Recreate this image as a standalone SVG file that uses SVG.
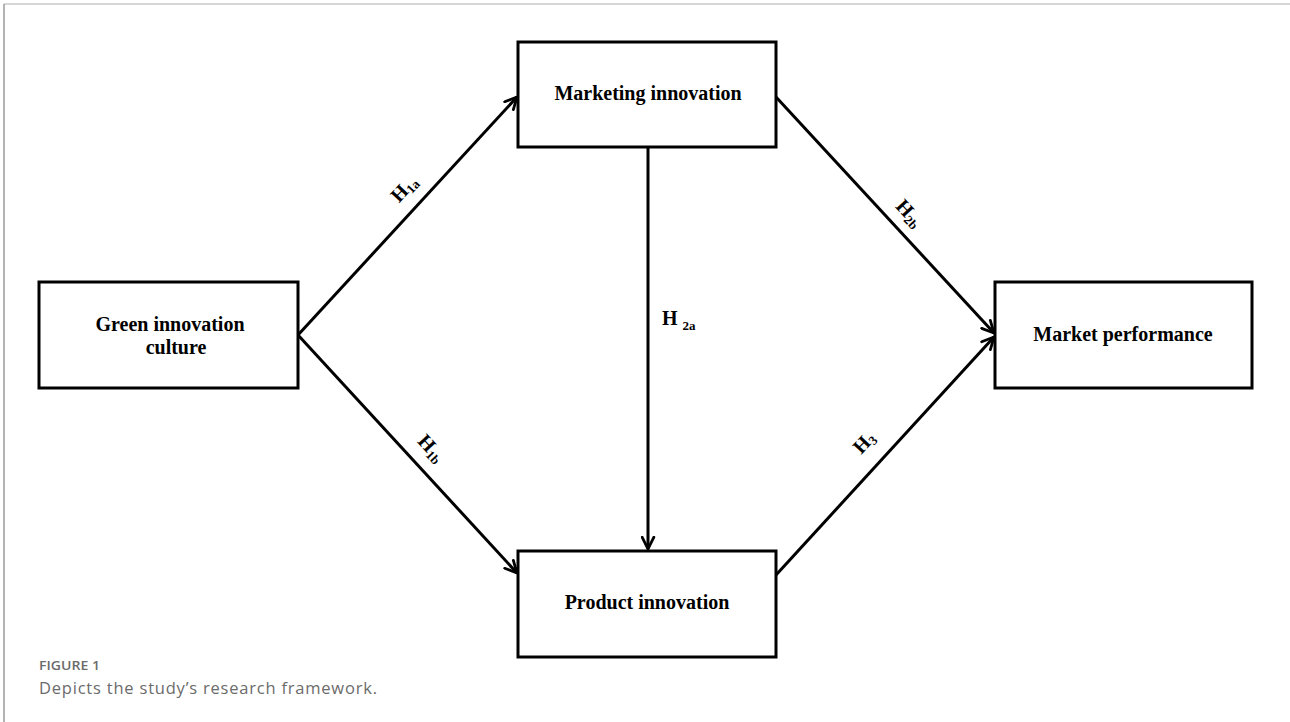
<svg xmlns="http://www.w3.org/2000/svg" width="1290" height="722" viewBox="0 0 1290 722">
<style>
.box{fill:#fff;stroke:#000;stroke-width:3}
.t{font-family:"Liberation Serif","Times New Roman",serif;font-weight:bold;font-size:20px;fill:#000;text-anchor:middle}
.lab{font-family:"Liberation Serif","Times New Roman",serif;font-weight:bold;font-size:20px;fill:#000}
.sub{font-size:13px}
.edge{stroke:#000;stroke-width:3;fill:none;marker-end:url(#ah)}
.cap1{font-family:"Open Sans","Noto Sans",sans-serif;font-weight:600;font-size:13px;fill:#6b6b6b}
.cap2{font-family:"Open Sans","Noto Sans",sans-serif;font-size:16.5px;fill:#6b6b6b}
</style>
<defs>
<marker id="ah" viewBox="0 0 14 14" refX="12.5" refY="7" markerWidth="15" markerHeight="15" markerUnits="userSpaceOnUse" orient="auto">
<path d="M1.5,1.5 L12.5,7 L1.5,12.5" fill="none" stroke="#000" stroke-width="2.6" stroke-linecap="round" stroke-linejoin="miter"/>
</marker>
</defs>
<rect width="1290" height="722" fill="#fff"/>
<g id="frame">
<line x1="4" y1="4" x2="1290" y2="4" stroke="#c8c8c8" stroke-width="1.5"/>
<line x1="4" y1="4" x2="4" y2="722" stroke="#9a9a9a" stroke-width="1.5"/>
</g>
<g id="connectors">
<line class="edge" x1="298" y1="335" x2="517" y2="97"/>
<line class="edge" x1="298" y1="335" x2="517" y2="573"/>
<line class="edge" x1="648" y1="147" x2="648" y2="549"/>
<line class="edge" x1="776" y1="97" x2="994" y2="333"/>
<line class="edge" x1="776" y1="575" x2="994" y2="337"/>
</g>
<g id="labels">
<text class="lab" transform="translate(402,190) rotate(-47)" x="-12" y="7">H<tspan class="sub" dy="3">1a</tspan></text>
<text class="lab" transform="translate(430,446) rotate(47)" x="-12" y="7">H<tspan class="sub" dy="3">1b</tspan></text>
<text class="lab" x="662" y="325">H <tspan class="sub" dy="5">2a</tspan></text>
<text class="lab" transform="translate(908,211) rotate(47)" x="-12" y="7">H<tspan class="sub" dy="3">2b</tspan></text>
<text class="lab" transform="translate(863,443) rotate(-47)" x="-10" y="7">H<tspan class="sub" dy="3">3</tspan></text>
</g>
<g id="node-green">
<rect class="box" x="39" y="282" width="259" height="106"/>
<text class="t" x="170" y="331">Green innovation</text>
<text class="t" x="176" y="354">culture</text>
</g>
<g id="node-marketing">
<rect class="box" x="518" y="42" width="258" height="105"/>
<text class="t" x="648" y="100">Marketing innovation</text>
</g>
<g id="node-product">
<rect class="box" x="518" y="551" width="258" height="106"/>
<text class="t" x="647" y="609">Product innovation</text>
</g>
<g id="node-market">
<rect class="box" x="995" y="282" width="257" height="106"/>
<text class="t" x="1123" y="341">Market performance</text>
</g>
<g id="caption">
<text class="cap1" x="39" y="670" textLength="61" lengthAdjust="spacingAndGlyphs">FIGURE 1</text>
<text class="cap2" x="39" y="694" textLength="338" lengthAdjust="spacing">Depicts the study’s research framework.</text>
</g>
</svg>
